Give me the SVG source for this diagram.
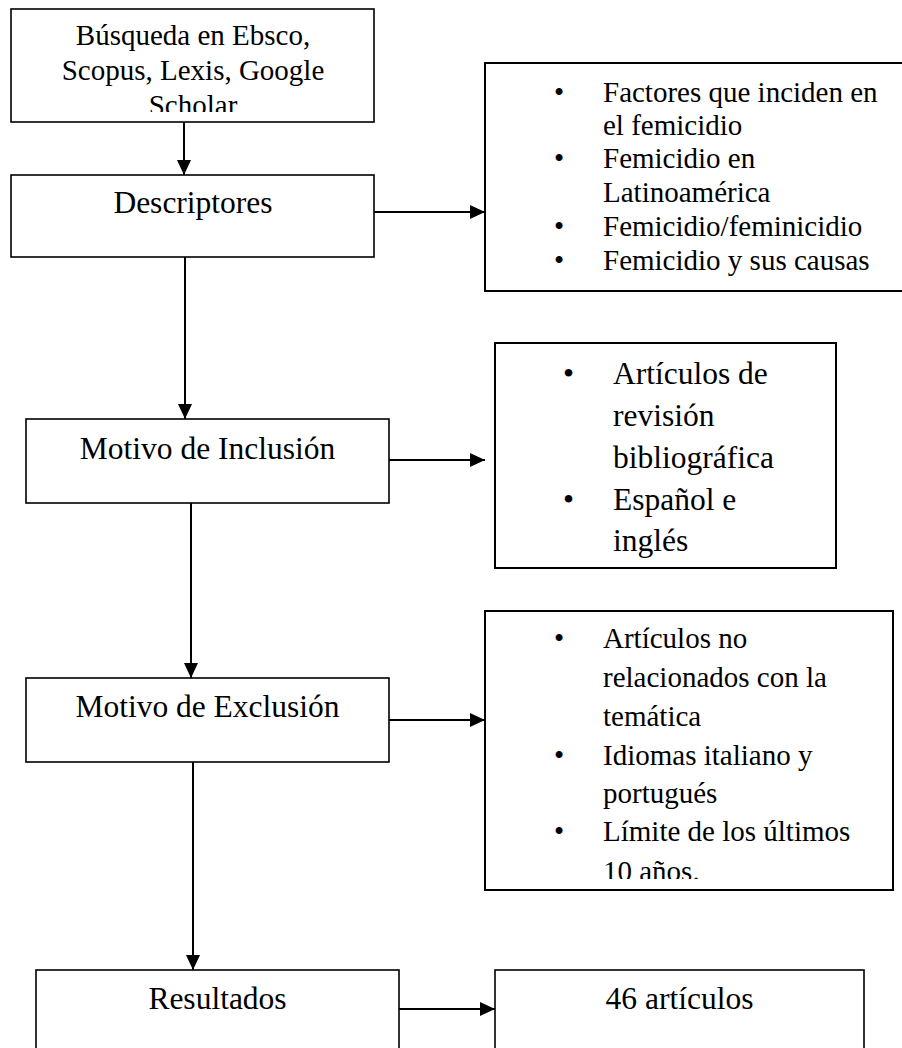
<svg xmlns="http://www.w3.org/2000/svg" width="902" height="1048" viewBox="0 0 902 1048">
<defs>
<style>
.box{fill:#fff;stroke:#000;stroke-width:1.6}
.rbox{fill:#fff;stroke:#000;stroke-width:2}
.t{font-family:"Liberation Serif","Times New Roman",serif;fill:#000}
.c{text-anchor:middle}
.conn{stroke:#000;stroke-width:2;fill:none;marker-end:url(#ah)}
</style>
<marker id="ah" markerUnits="userSpaceOnUse" markerWidth="16" markerHeight="16" viewBox="0 0 16 14" refX="15" refY="7" orient="auto">
<path d="M0,0 L15,7 L0,14 Z" fill="#000"/>
</marker>
<clipPath id="clip1"><rect x="11" y="9" width="363" height="103"/></clipPath>
<clipPath id="clip2"><rect x="485" y="611" width="408" height="268"/></clipPath>
</defs>
<rect width="902" height="1048" fill="#fff"/>
<g id="connectors">
<line class="conn" x1="184" y1="122" x2="184" y2="175"/>
<line class="conn" x1="374" y1="212" x2="485" y2="212"/>
<line class="conn" x1="185" y1="257" x2="185" y2="419"/>
<line class="conn" x1="389" y1="460" x2="485" y2="460"/>
<line class="conn" x1="191" y1="503" x2="191" y2="678"/>
<line class="conn" x1="389" y1="720" x2="485" y2="720"/>
<line class="conn" x1="193" y1="762" x2="193" y2="970"/>
<line class="conn" x1="399" y1="1009" x2="495" y2="1009" stroke-width="2.8"/>
</g>
<g id="busqueda">
<rect class="box" x="11" y="9" width="363" height="113"/>
<g clip-path="url(#clip1)" class="t c" font-size="29">
<text x="193" y="45">Búsqueda en Ebsco,</text>
<text x="193" y="80">Scopus, Lexis, Google</text>
<text x="193" y="115">Scholar</text>
</g>
</g>
<g id="descriptores">
<rect class="box" x="11" y="175" width="363" height="82"/>
<text class="t c" x="193" y="213" font-size="31.5">Descriptores</text>
</g>
<g id="lista-descriptores">
<rect class="rbox" x="485" y="63" width="425" height="228"/>
<g class="t" font-size="29">
<text x="554" y="102">•</text><text x="603" y="102">Factores que inciden en</text>
<text x="603" y="135">el femicidio</text>
<text x="554" y="168">•</text><text x="603" y="168">Femicidio en</text>
<text x="603" y="202">Latinoamérica</text>
<text x="554" y="236">•</text><text x="603" y="236">Femicidio/feminicidio</text>
<text x="554" y="270">•</text><text x="603" y="270">Femicidio y sus causas</text>
</g>
</g>
<g id="inclusion">
<rect class="box" x="26" y="419" width="363" height="84"/>
<text class="t c" x="207.5" y="459" font-size="31.5">Motivo de Inclusión</text>
</g>
<g id="lista-inclusion">
<rect class="rbox" x="495" y="343" width="341" height="225"/>
<g class="t" font-size="31.5">
<text x="563" y="384">•</text><text x="613" y="384">Artículos de</text>
<text x="613" y="426">revisión</text>
<text x="613" y="468">bibliográfica</text>
<text x="563" y="510">•</text><text x="613" y="510">Español e</text>
<text x="613" y="551">inglés</text>
</g>
</g>
<g id="exclusion">
<rect class="box" x="26" y="678" width="363" height="84"/>
<text class="t c" x="207.5" y="717" font-size="31.5">Motivo de Exclusión</text>
</g>
<g id="lista-exclusion">
<rect class="rbox" x="485" y="611" width="408" height="279"/>
<g clip-path="url(#clip2)" class="t" font-size="29">
<text x="554" y="648">•</text><text x="603" y="648">Artículos no</text>
<text x="603" y="687">relacionados con la</text>
<text x="603" y="726">temática</text>
<text x="554" y="765">•</text><text x="603" y="765">Idiomas italiano y</text>
<text x="603" y="803">portugués</text>
<text x="554" y="841">•</text><text x="603" y="841">Límite de los últimos</text>
<text x="603" y="881">10 años.</text>
</g>
</g>
<g id="resultados">
<rect class="box" x="36" y="970" width="363" height="90"/>
<text class="t c" x="217.5" y="1009" font-size="31.5">Resultados</text>
</g>
<g id="articulos">
<rect class="box" x="495" y="970" width="369" height="90"/>
<text class="t c" x="679.5" y="1009" font-size="31.5">46 artículos</text>
</g>
</svg>
